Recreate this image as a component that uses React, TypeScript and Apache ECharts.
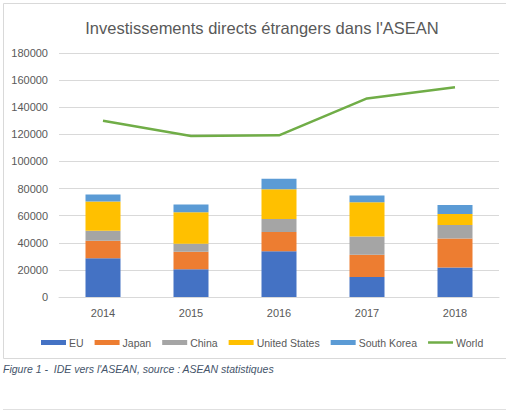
import React, { useEffect, useRef } from "react";
import * as echarts from "echarts";

const years = ["2014", "2015", "2016", "2017", "2018"];
const eu = [28600, 20500, 33800, 14800, 21700];
const japan = [12900, 12800, 14100, 16300, 21500];
const china = [7400, 5900, 9600, 13600, 9900];
const unitedStates = [21500, 23400, 22000, 25200, 8100];
const southKorea = [5200, 5700, 7700, 4900, 6700];
const world = [130000, 118800, 119300, 146500, 154800];

const FONT = "'Liberation Sans', Arial, sans-serif";

export default function App() {
  const ref = useRef<HTMLDivElement>(null);
  useEffect(() => {
    if (!ref.current) return;
    const chart = echarts.init(ref.current, undefined, { renderer: "svg" });
    const barSeries = (name: string, data: number[], color: string) => ({
      name,
      type: "bar",
      stack: "total",
      data,
      barWidth: 35,
      itemStyle: { color },
    });
    chart.setOption({
      animation: false,
      backgroundColor: "#ffffff",
      textStyle: { fontFamily: FONT },
      title: {
        text: "Investissements directs étrangers dans l'ASEAN",
        left: 257,
        textAlign: "center",
        top: 14,
        textStyle: { fontSize: 16.5, fontWeight: "normal", color: "#595959", fontFamily: FONT },
      },
      grid: { left: 59, right: 7, top: 53, bottom: 115, containLabel: false },
      legend: {
        top: 332,
        left: 36,
        itemWidth: 25,
        itemHeight: 5,
        itemGap: 11,
        textStyle: { fontSize: 10.5, color: "#595959", fontFamily: FONT, padding: [0, 0, 0, -2] },
        data: [
          { name: "EU", icon: "rect" },
          { name: "Japan", icon: "rect" },
          { name: "China", icon: "rect" },
          { name: "United States", icon: "rect" },
          { name: "South Korea", icon: "rect" },
          { name: "World", icon: "path://M0 0H25V2.5H0Z" },
        ],
      },
      xAxis: {
        type: "category",
        data: years,
        axisLine: { lineStyle: { color: "#d9d9d9" } },
        axisTick: { show: false },
        axisLabel: { color: "#595959", fontSize: 11, margin: 10, fontFamily: FONT },
      },
      yAxis: {
        type: "value",
        min: 0,
        max: 180000,
        interval: 20000,
        axisLine: { show: false },
        axisTick: { show: false },
        axisLabel: {
          color: "#595959",
          fontSize: 11,
          margin: 11,
          fontFamily: FONT,
          formatter: (v: number) => String(v),
        },
        splitLine: { lineStyle: { color: "#d9d9d9" } },
      },
      series: [
        barSeries("EU", eu, "#4472C4"),
        barSeries("Japan", japan, "#ED7D31"),
        barSeries("China", china, "#A5A5A5"),
        barSeries("United States", unitedStates, "#FFC000"),
        barSeries("South Korea", southKorea, "#5B9BD5"),
        {
          name: "World",
          type: "line",
          data: world,
          symbol: "none",
          lineStyle: { color: "#70AD47", width: 2.5 },
          itemStyle: { color: "#70AD47" },
        },
      ],
      graphic: [
        {
          type: "rect",
          silent: true,
          shape: { x: 3.5, y: 3.5, width: 520, height: 355 },
          style: { fill: "none", stroke: "#d9d9d9", lineWidth: 1 },
          z: -1,
        },
        {
          type: "line",
          silent: true,
          shape: { x1: 3, y1: 409.5, x2: 506, y2: 409.5 },
          style: { stroke: "#e0e0e0", lineWidth: 1 },
        },
        {
          type: "text",
          left: 3,
          top: 363,
          style: {
            text: "Figure 1 -  IDE vers l'ASEAN, source : ASEAN statistiques",
            fontSize: 10.5,
            fontStyle: "italic",
            fill: "#44546A",
            fontFamily: FONT,
          },
        },
      ],
    });
    return () => chart.dispose();
  }, []);
  return (
    <div
      ref={ref}
      style={{ position: "absolute", left: 0, top: 0, width: 506, height: 412 }}
    />
  );
}
